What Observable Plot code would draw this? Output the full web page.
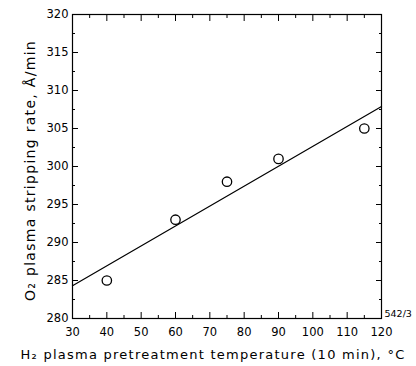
<!DOCTYPE html>
<html><head><meta charset="utf-8">
<script src="https://cdn.jsdelivr.net/npm/d3@7"></script>
<script src="https://cdn.jsdelivr.net/npm/@observablehq/plot@0.6"></script>
<style>
body{margin:0;background:#fff}
.xtitle text{letter-spacing:1.25px}
.ytitle text{letter-spacing:1.3px}
</style>
</head><body><div id="chart"></div>
<script>
const temps = [40, 60, 75, 90, 115];
const rates = [285, 293, 298, 301, 305];
const fitTemps = [30, 120];
const fitRates = [284.3, 307.9];
const xMajor = [30, 40, 50, 60, 70, 80, 90, 100, 110, 120];
const xMinor = [35, 45, 55, 65, 75, 85, 95, 105, 115];
const yMajor = [280, 285, 290, 295, 300, 305, 310, 315, 320];
const yMinor = [282.5, 287.5, 292.5, 297.5, 302.5, 307.5, 312.5, 317.5];
const xTitle = ["H₂ plasma pretreatment temperature (10 min), °C"];
const yTitle = ["O₂ plasma stripping rate, Å/min"];
const annotation = ["542/3"];

const pts = temps.map((t, i) => ({t, r: rates[i]}));
const fit = fitTemps.map((t, i) => ({t, r: fitRates[i]}));

const font = "DejaVu Sans";
const chart = Plot.plot({
  width: 416, height: 366,
  marginLeft: 72, marginRight: 35, marginTop: 14, marginBottom: 48,
  style: {fontFamily: font, fontSize: "11.5px", color: "#000", background: "#fff"},
  x: {domain: [30, 120]},
  y: {domain: [280, 320]},
  marks: [
    Plot.frame({stroke: "#000", strokeWidth: 1.2}),
    Plot.axisX({anchor: "bottom", ticks: xMajor, tickSize: -6, tickPadding: 15, fontSize: 11.5, label: null}),
    Plot.axisX({anchor: "bottom", ticks: xMinor, tickSize: -3, text: null, label: null}),
    Plot.axisX({anchor: "top", ticks: xMajor, tickSize: -6, text: null, label: null}),
    Plot.axisX({anchor: "top", ticks: xMinor, tickSize: -3, text: null, label: null}),
    Plot.axisY({anchor: "left", ticks: yMajor, tickSize: -6, tickPadding: 10, fontSize: 11.5, label: null}),
    Plot.axisY({anchor: "left", ticks: yMinor, tickSize: -3, text: null, label: null}),
    Plot.axisY({anchor: "right", ticks: yMajor, tickSize: -6, text: null, label: null}),
    Plot.axisY({anchor: "right", ticks: yMinor, tickSize: -3, text: null, label: null}),
    Plot.line(fit, {x: "t", y: "r", stroke: "#000", strokeWidth: 1.2}),
    Plot.dot(pts, {x: "t", y: "r", r: 4.7, stroke: "#000", strokeWidth: 1.3, fill: "none"}),
    Plot.text(xTitle, {className: "xtitle", frameAnchor: "bottom", textAnchor: "middle", dx: -14, dy: 40, fontSize: 13}),
    Plot.text(yTitle, {className: "ytitle", frameAnchor: "left", textAnchor: "middle", rotate: -90, dx: -42, dy: 4, fontSize: 14}),
    Plot.text(annotation, {x: () => 120, y: () => 280, text: d => d, dx: 3, dy: -5, textAnchor: "start", fontSize: 9.5, textDecoration: "overline"})
  ]
});
document.getElementById("chart").append(chart);
</script>
</body></html>
